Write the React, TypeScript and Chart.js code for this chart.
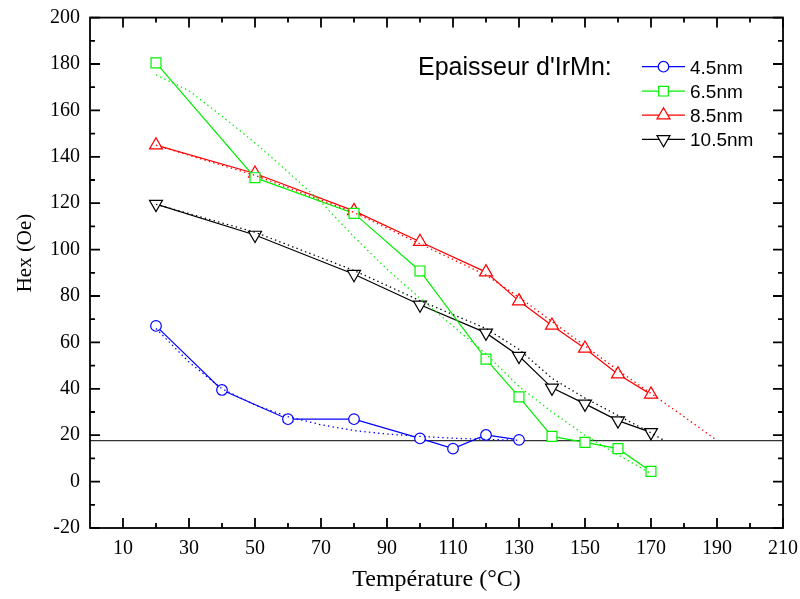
import React, { useEffect, useRef } from 'react';
import { Chart, registerables } from 'chart.js';

Chart.register(...registerables);

// ---- Data ----
const xTickLabels = [10, 30, 50, 70, 90, 110, 130, 150, 170, 190, 210];
const xMinorTicks = [20, 40, 60, 80, 100, 120, 140, 160, 180, 200];
const yTickLabels = [-20, 0, 20, 40, 60, 80, 100, 120, 140, 160, 180, 200];
const yMinorTicks = [-10, 10, 30, 50, 70, 90, 110, 130, 150, 170, 190];

const seriesNames = ['4.5nm', '6.5nm', '8.5nm', '10.5nm'];

const x45 = [20, 40, 60, 80, 100, 110, 120, 130];
const y45 = [67.1, 39.5, 26.9, 26.9, 18.6, 14.2, 20.1, 18.0];
const x45fit = [20, 30, 40, 50, 60, 70, 80, 90, 100, 110, 120, 130];
const y45fit = [66, 51.5, 40, 33, 28, 24.5, 22, 20.5, 19.5, 18.7, 18.2, 17.8];

const x65 = [20, 50, 80, 100, 120, 130, 140, 150, 160, 170];
const y65 = [180.5, 131, 115.6, 90.8, 52.8, 36.5, 19.5, 16.9, 14.2, 4.4];
const x65fit = [20, 30, 40, 50, 60, 70, 80, 90, 100, 110, 120, 130, 140, 150, 160, 170];
const y65fit = [175.3, 168.5, 157.5, 146, 133.5, 120.5, 105.5, 91.5, 79, 67, 55, 41, 30, 20, 11.5, 3.5];

const x85 = [20, 50, 80, 100, 120, 130, 140, 150, 160, 170];
const y85 = [145, 132.8, 116.7, 103.4, 90.3, 77.8, 67.3, 57.4, 46.3, 37.6];
const x85fit = [20, 50, 80, 100, 120, 130, 140, 150, 160, 170, 180, 190];
const y85fit = [145, 132, 116, 102.5, 89, 79.5, 69, 58.5, 48, 38, 28, 17.7];

const x105 = [20, 50, 80, 100, 120, 130, 140, 150, 160, 170];
const y105 = [119.6, 106.3, 89.4, 76.2, 64.1, 54.1, 40.4, 33.5, 26.3, 21.2];
const x105fit = [20, 50, 80, 100, 120, 130, 140, 150, 160, 170, 174];
const y105fit = [119.5, 107.5, 91, 78, 66, 57, 44.5, 36, 28.5, 21, 17.7];

const xBase = [0, 210];
const yBase = [17.7, 17.7];

const colors = ['#0000ff', '#00f000', '#ff0000', '#000000'];
const markerStyles = ['circle', 'rect', 'triangle', 'triangle'];
const markerRotations = [0, 0, 0, 180];
const markerRadii = [5.3, 7, 7.5, 7.5];

const pts = (xs: number[], ys: number[]) => xs.map((x, i) => ({ x, y: ys[i] }));

const drawMarker = (ctx: CanvasRenderingContext2D, idx: number, cx: number, cy: number) => {
  ctx.save();
  ctx.strokeStyle = colors[idx];
  ctx.fillStyle = '#fff';
  ctx.lineWidth = 1.2;
  ctx.beginPath();
  if (idx === 0) {
    ctx.arc(cx, cy, 5.3, 0, Math.PI * 2);
  } else if (idx === 1) {
    ctx.rect(cx - 4.8, cy - 4.8, 9.6, 9.6);
  } else {
    const r = 7.5;
    const dir = idx === 2 ? -1 : 1;
    ctx.moveTo(cx, cy + dir * r);
    ctx.lineTo(cx + r * Math.sin((2 * Math.PI) / 3), cy - dir * r * 0.5);
    ctx.lineTo(cx - r * Math.sin((2 * Math.PI) / 3), cy - dir * r * 0.5);
    ctx.closePath();
  }
  ctx.fill();
  ctx.stroke();
  ctx.restore();
};

const framePlugin = {
  id: 'framePlugin',
  afterDraw(chart: any) {
    const { ctx, chartArea: a, scales } = chart;
    const xs = scales.x;
    const ys = scales.y;
    ctx.save();
    ctx.strokeStyle = '#000';
    ctx.lineWidth = 1.8;
    // frame
    ctx.strokeRect(a.left, a.top, a.right - a.left, a.bottom - a.top);
    // ticks
    ctx.beginPath();
    const xt = (v: number, len: number) => {
      const p = xs.getPixelForValue(v);
      ctx.moveTo(p, a.bottom);
      ctx.lineTo(p, a.bottom - len);
      ctx.moveTo(p, a.top);
      ctx.lineTo(p, a.top + len);
    };
    const yt = (v: number, len: number) => {
      const p = ys.getPixelForValue(v);
      ctx.moveTo(a.left, p);
      ctx.lineTo(a.left + len, p);
      ctx.moveTo(a.right, p);
      ctx.lineTo(a.right - len, p);
    };
    xTickLabels.forEach((v) => xt(v, 10));
    xMinorTicks.forEach((v) => xt(v, 5));
    yTickLabels.forEach((v) => yt(v, 10));
    yMinorTicks.forEach((v) => yt(v, 5));
    ctx.stroke();

    // axis titles
    ctx.fillStyle = '#000';
    ctx.font = '24px "Liberation Serif"';
    ctx.textAlign = 'center';
    ctx.textBaseline = 'middle';
    ctx.fillText('Température (°C)', (a.left + a.right) / 2, 580);
    ctx.save();
    ctx.translate(25, 253);
    ctx.rotate(-Math.PI / 2);
    ctx.font = '21px "Liberation Serif"';
    ctx.fillText('Hex (Oe)', 0, 0);
    ctx.restore();

    // legend
    ctx.textAlign = 'left';
    ctx.textBaseline = 'alphabetic';
    ctx.font = '25px "Liberation Sans"';
    ctx.fillText("Epaisseur d'IrMn:", 418, 75);
    ctx.font = '19px "Liberation Sans"';
    const rowY = [66.7, 91.2, 115.2, 139.4];
    seriesNames.forEach((name, i) => {
      const y = rowY[i];
      ctx.save();
      ctx.strokeStyle = colors[i];
      ctx.lineWidth = 1.2;
      ctx.beginPath();
      ctx.moveTo(642, y);
      ctx.lineTo(685, y);
      ctx.stroke();
      ctx.restore();
      drawMarker(ctx, i, 663.5, y);
      ctx.fillStyle = '#000';
      ctx.fillText(name, 690, y + 7);
    });
    ctx.restore();
  },
};

export default function App() {
  const ref = useRef<HTMLCanvasElement>(null);
  useEffect(() => {
    if (!ref.current) return;
    const fits = [pts(x45fit, y45fit), pts(x65fit, y65fit), pts(x85fit, y85fit), pts(x105fit, y105fit)];
    const raws = [pts(x45, y45), pts(x65, y65), pts(x85, y85), pts(x105, y105)];

    const fitSets = fits.map((d, i) => ({
      data: d,
      borderColor: colors[i],
      borderWidth: 1.3,
      borderDash: [1.4, 3.2],
      pointRadius: 0,
      showLine: true,
      fill: false,
      tension: 0,
    }));
    const markerSets = raws.map((d, i) => ({
      data: d,
      showLine: false,
      pointStyle: markerStyles[i],
      rotation: markerRotations[i],
      pointRadius: markerRadii[i],
      pointBorderWidth: 1.2,
      pointBorderColor: colors[i],
      pointBackgroundColor: '#ffffff',
      borderColor: colors[i],
      backgroundColor: '#ffffff',
    }));
    const lineSets = raws.map((d, i) => ({
      data: d,
      borderColor: colors[i],
      borderWidth: 1.2,
      pointRadius: 0,
      showLine: true,
      fill: false,
      tension: 0,
    }));
    const baseSet = {
      data: pts(xBase, yBase),
      borderColor: '#333333',
      borderWidth: 1.3,
      pointRadius: 0,
      showLine: true,
      fill: false,
    };

    const tickFont = { family: '"Liberation Serif"', size: 20 };
    const chart = new Chart(ref.current, {
      type: 'scatter',
      data: { datasets: [...fitSets, ...markerSets, ...lineSets, baseSet] as any },
      options: {
        responsive: false,
        animation: false,
        events: [],
        layout: { padding: { top: 17.6, right: 17, left: 0, bottom: 0 } },
        plugins: { legend: { display: false }, tooltip: { enabled: false } },
        scales: {
          x: {
            type: 'linear',
            min: 0,
            max: 210,
            afterBuildTicks: (s: any) => {
              s.ticks = xTickLabels.map((v) => ({ value: v }));
            },
            afterFit: (s: any) => {
              s.height = 71;
              s.paddingLeft = 0;
              s.paddingRight = 0;
            },
            grid: { display: false, drawTicks: false },
            border: { display: false },
            ticks: { padding: 9, font: tickFont, color: '#000', autoSkip: false, maxRotation: 0 },
          },
          y: {
            type: 'linear',
            min: -20,
            max: 200,
            afterBuildTicks: (s: any) => {
              s.ticks = yTickLabels.map((v) => ({ value: v }));
            },
            afterFit: (s: any) => {
              s.width = 90;
              s.paddingTop = 0;
              s.paddingBottom = 0;
            },
            grid: { display: false, drawTicks: false },
            border: { display: false },
            ticks: { padding: 10, font: tickFont, color: '#000', autoSkip: false },
          },
        },
      } as any,
      plugins: [framePlugin],
    });
    return () => chart.destroy();
  }, []);
  return (
    <div style={{ position: 'fixed', left: 0, top: 0, width: 800, height: 599, background: '#fff' }}>
      <canvas ref={ref} width={800} height={599} style={{ display: 'block' }} />
    </div>
  );
}
